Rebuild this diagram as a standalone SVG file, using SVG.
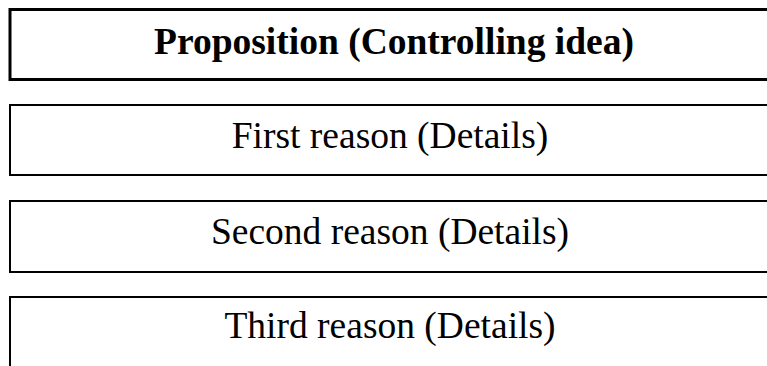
<svg xmlns="http://www.w3.org/2000/svg" width="767" height="366" viewBox="0 0 767 366">
<style>
.box{fill:#fff;stroke:#000}
.t{font-family:"Liberation Serif","Times New Roman",serif;text-anchor:middle;fill:#000}
.b{font-weight:bold;font-size:37.5px}
.n{font-size:37.5px}
</style>
<rect width="767" height="366" fill="#fff"/>
<g id="proposition">
<rect class="box" x="10" y="9.5" width="780" height="70" stroke-width="3"/>
<text class="t b" x="394" y="54">Proposition (Controlling idea)</text>
</g>
<g id="first-reason">
<rect class="box" x="10" y="105" width="780" height="70" stroke-width="2"/>
<text class="t n" x="390" y="148">First reason (Details)</text>
</g>
<g id="second-reason">
<rect class="box" x="10" y="201" width="780" height="71" stroke-width="2"/>
<text class="t n" x="390" y="244">Second reason (Details)</text>
</g>
<g id="third-reason">
<rect class="box" x="10" y="297" width="780" height="100" stroke-width="2"/>
<text class="t n" x="390" y="338">Third reason (Details)</text>
</g>
<g id="connectors"></g>
</svg>
